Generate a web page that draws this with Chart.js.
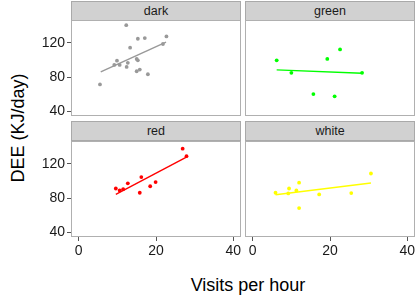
<!DOCTYPE html>
<html>
<head>
<meta charset="utf-8">
<script src="https://cdn.jsdelivr.net/npm/chart.js@4.4.1/dist/chart.umd.min.js"></script>
<style>
    body { margin: 0; background: #ffffff; }
    #wrap { position: relative; width: 416px; height: 299px; overflow: hidden; font-family: "Liberation Sans", Arial, sans-serif; }
    .panel { position: absolute; }
    .strip { position: absolute; box-sizing: border-box; background: #d1d1d1; border: 1px solid #a9a9a9;
             color: #1a1a1a; font-size: 12.5px; text-align: center; }
    .title { position: absolute; color: #000000; font-size: 18px; white-space: nowrap; }
</style>
</head>
<body>
<div id="wrap">
    <div class="strip" style="left:71px; top:1px; width:170px; height:20px; line-height:18px;">dark</div>
    <div class="strip" style="left:245px; top:1px; width:170px; height:20px; line-height:18px;">green</div>
    <div class="strip" style="left:71px; top:121px; width:170px; height:20px; line-height:18px;">red</div>
    <div class="strip" style="left:245px; top:121px; width:170px; height:20px; line-height:18px;">white</div>

    <canvas class="panel" id="c-dark" width="211" height="96" style="left:30px; top:20px;"></canvas>
    <canvas class="panel" id="c-green" width="170" height="96" style="left:245px; top:20px;"></canvas>
    <canvas class="panel" id="c-red" width="211" height="122" style="left:30px; top:141px;"></canvas>
    <canvas class="panel" id="c-white" width="170" height="122" style="left:245px; top:141px;"></canvas>

    <div class="title" style="left:18px; top:128px; transform: translate(-50%, -50%) rotate(-90deg);">DEE (KJ/day)</div>
    <div class="title" style="left:248px; top:285px; transform: translate(-50%, -50%);">Visits per hour</div>
</div>
<script>
// ---------------------------------------------------
// DATA
// ---------------------------------------------------
const xTicks = [ 0, 20, 40 ];
const yTicks = [ 40, 80, 120 ];

const darkX = [ 5.5, 12.3, 9.9, 9.2, 10.6, 12.7, 12.4, 13.3, 15.0, 15.3, 15.0, 15.8, 15.3, 17.1, 17.9, 21.8, 22.7 ];
const darkY = [ 71.3, 140.5, 99.1, 94.1, 94.1, 96.5, 91.8, 114.2, 101.1, 99.5, 86.7, 88.7, 124.6, 125.4, 83.2, 118.5, 127.3 ];
const darkFitX = [ 5.7, 22.6 ];
const darkFitY = [ 86.0, 120.8 ];

const greenX = [ 6.2, 10.0, 15.7, 19.3, 22.6, 21.2, 28.3 ];
const greenY = [ 99.5, 84.9, 60.1, 101.1, 112.2, 57.4, 84.9 ];
const greenFitX = [ 6.2, 28.3 ];
const greenFitY = [ 88.3, 84.4 ];

const redX = [ 9.6, 10.6, 11.5, 12.7, 15.8, 16.2, 18.5, 19.9, 26.9, 27.9 ];
const redY = [ 91.1, 88.8, 90.3, 97.1, 86.1, 104.4, 93.7, 98.6, 137.5, 128.8 ];
const redFitX = [ 9.6, 28.0 ];
const redFitY = [ 84.2, 128.0 ];

const whiteX = [ 5.9, 9.4, 9.2, 11.3, 12.0, 12.0, 17.2, 25.5, 30.6 ];
const whiteY = [ 86.1, 91.1, 85.3, 88.8, 97.9, 68.2, 84.2, 85.7, 108.6 ];
const whiteFitX = [ 5.9, 30.6 ];
const whiteFitY = [ 83.8, 97.5 ];
// ---------------------------------------------------

const tickFont = { family: '"Liberation Sans", Arial, sans-serif', size: 14 };

// panel border drawn on all four sides of the plot area
const panelBorder = {
    id: 'panelBorder',
    afterDraw( chart ) {
        const a = chart.chartArea;
        const ctx = chart.ctx;
        ctx.save();
        ctx.strokeStyle = '#b0b0b0';
        ctx.lineWidth = 1;
        ctx.strokeRect( a.left + 0.5, a.top + 0.5, a.right - a.left - 1, a.bottom - a.top - 1 );
        ctx.restore();
    }
};

function toPoints( xs, ys ) {
    return xs.map( ( x, i ) => ( { x: x, y: ys[ i ] } ) );
}

function makePanel( id, xs, ys, fx, fy, color, showX, showY ) {
    new Chart( document.getElementById( id ), {
        type: 'scatter',
        data: {
            datasets: [
                {
                    data: toPoints( xs, ys ),
                    backgroundColor: color,
                    borderWidth: 0,
                    pointRadius: 1.9
                },
                {
                    type: 'line',
                    data: toPoints( fx, fy ),
                    borderColor: color,
                    borderWidth: 1.4,
                    pointRadius: 0,
                    fill: false
                }
            ]
        },
        options: {
            responsive: false,
            animation: false,
            events: [],
            layout: { padding: 0, autoPadding: false },
            plugins: { legend: { display: false }, tooltip: { enabled: false } },
            scales: {
                x: {
                    type: 'linear',
                    min: -2,
                    max: 42,
                    display: showX,
                    afterBuildTicks: s => { s.ticks = xTicks.map( v => ( { value: v } ) ); },
                    afterFit: s => {
                        s.height = showX ? 26 : 0;
                        s.paddingLeft = 0;
                        s.paddingRight = 0;
                    },
                    grid: { drawOnChartArea: false, drawTicks: true, tickLength: 4, color: '#555555' },
                    border: { display: false },
                    ticks: { font: tickFont, color: '#1a1a1a', padding: 2, maxRotation: 0 }
                },
                y: {
                    type: 'linear',
                    min: 34.5,
                    max: 146.5,
                    display: showY,
                    afterBuildTicks: s => { s.ticks = yTicks.map( v => ( { value: v } ) ); },
                    afterFit: s => {
                        s.width = showY ? 41 : 0;
                        s.paddingTop = 0;
                        s.paddingBottom = 0;
                    },
                    grid: { drawOnChartArea: false, drawTicks: true, tickLength: 4, color: '#555555' },
                    border: { display: false },
                    ticks: { font: tickFont, color: '#1a1a1a', padding: 2 }
                }
            }
        },
        plugins: [ panelBorder ]
    });
}

makePanel( 'c-dark', darkX, darkY, darkFitX, darkFitY, '#999999', false, true );
makePanel( 'c-green', greenX, greenY, greenFitX, greenFitY, '#00ff00', false, false );
makePanel( 'c-red', redX, redY, redFitX, redFitY, '#ff0000', true, true );
makePanel( 'c-white', whiteX, whiteY, whiteFitX, whiteFitY, '#ffff00', true, false );
</script>
</body>
</html>
